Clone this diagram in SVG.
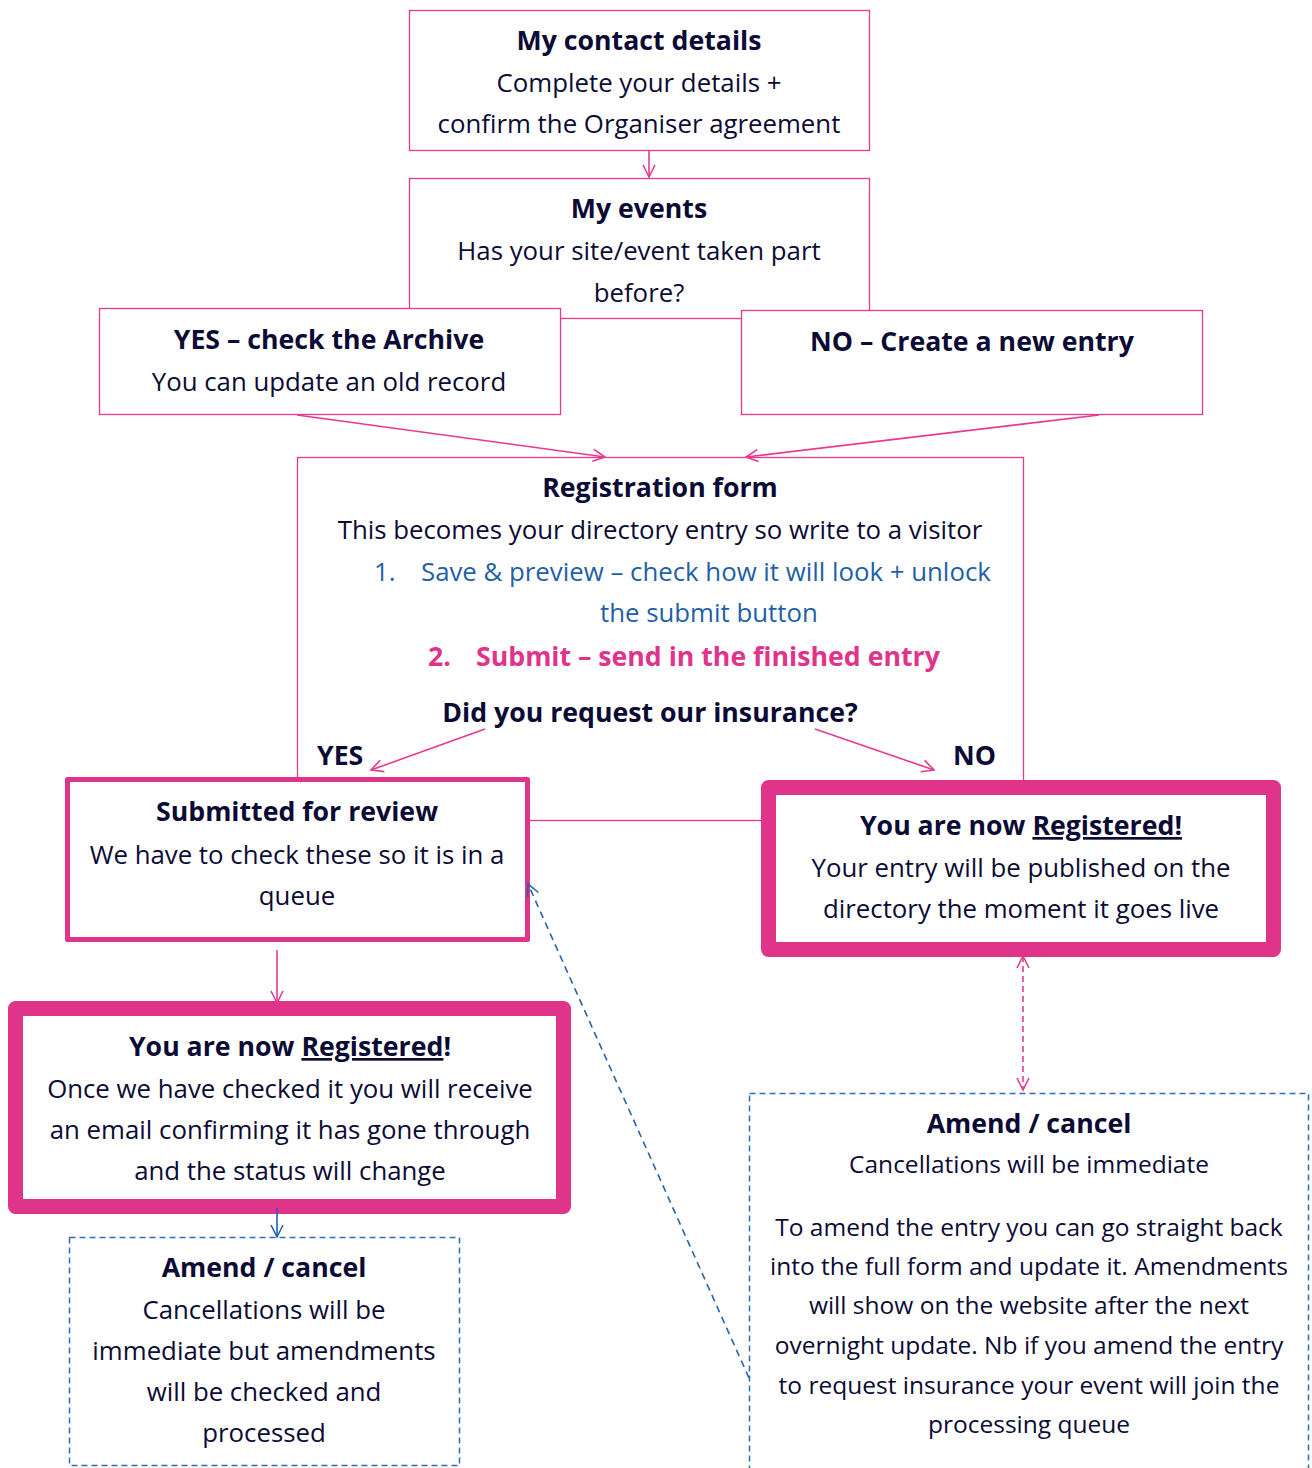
<svg xmlns="http://www.w3.org/2000/svg" width="1312" height="1468" viewBox="0 0 1312 1468">
<defs>
<style>
.t { font-family: "Open Sans", Lato, "Liberation Sans", sans-serif; font-size: 25.8px; fill: #0b0b35; }
.b { font-weight: bold; font-size: 26.7px; }
.sm { font-size: 24.5px; }
.c { text-anchor: middle; }
.blue { fill: #1F5FA8; }
.pinkt { fill: #E0338A; }
.thin { fill: #fff; stroke: #E8398F; stroke-width: 1.3; }
.thick { fill: #fff; stroke: #E0338A; stroke-linejoin: round; }
.dash { fill: #fff; stroke: #2E6DB4; stroke-width: 1.5; stroke-dasharray: 6 4; }
.conn { stroke: #E8398F; stroke-width: 1.6; fill: none; }
.bconn { stroke: #2464AE; stroke-width: 1.6; fill: none; }
</style>
<marker id="ph" markerUnits="userSpaceOnUse" markerWidth="16" markerHeight="16" refX="13" refY="7" orient="auto-start-reverse" viewBox="0 0 16 14">
<path d="M1,1 L13,7 L1,13" fill="none" stroke="#E8398F" stroke-width="1.6"/>
</marker>
<marker id="bh" markerUnits="userSpaceOnUse" markerWidth="16" markerHeight="16" refX="13" refY="7" orient="auto" viewBox="0 0 16 14">
<path d="M1,1 L13,7 L1,13" fill="none" stroke="#2464AE" stroke-width="1.6"/>
</marker>
</defs>
<rect width="1312" height="1468" fill="#fff"/>

<g id="contact">
<rect class="thin" x="409.5" y="10.5" width="460" height="140"/>
<text class="t b c" x="639" y="50">My contact details</text>
<text class="t c" x="639" y="92">Complete your details +</text>
<text class="t c" x="639" y="133">confirm the Organiser agreement</text>
</g>

<g id="events">
<rect class="thin" x="409.5" y="178.5" width="460" height="140"/>
<text class="t b c" x="639" y="218">My events</text>
<text class="t c" x="639" y="260">Has your site/event taken part</text>
<text class="t c" x="639" y="302">before?</text>
</g>

<g id="yes-archive">
<rect class="thin" x="99.5" y="308.5" width="461" height="106"/>
<text class="t b c" x="329" y="349">YES – check the Archive</text>
<text class="t c" x="329" y="391">You can update an old record</text>
</g>

<g id="no-new">
<rect class="thin" x="741.5" y="310.5" width="461" height="104"/>
<text class="t b c" x="972" y="351">NO – Create a new entry</text>
</g>

<g id="registration">
<rect class="thin" x="297.5" y="457.5" width="726" height="363"/>
<text class="t b c" x="660" y="497">Registration form</text>
<text class="t c" x="660" y="539">This becomes your directory entry so write to a visitor</text>
<text class="t blue" x="374" y="581">1.</text>
<text class="t blue" x="421" y="581">Save &amp; preview – check how it will look + unlock</text>
<text class="t blue" x="600" y="622">the submit button</text>
<text class="t b pinkt" x="428" y="666">2.</text>
<text class="t b pinkt" x="476" y="666">Submit – send in the finished entry</text>
<text class="t b c" x="650" y="722">Did you request our insurance?</text>
<text class="t b" x="317" y="765">YES</text>
<text class="t b" x="953" y="765">NO</text>
</g>

<g id="submitted">
<rect class="thick" x="67.5" y="779.5" width="460" height="160" stroke-width="5"/>
<text class="t b c" x="297" y="821">Submitted for review</text>
<text class="t c" x="297" y="864">We have to check these so it is in a</text>
<text class="t c" x="297" y="905">queue</text>
</g>

<g id="registered-now">
<rect class="thick" x="768.5" y="787.5" width="505" height="162" stroke-width="15"/>
<text class="t b c" x="1021" y="835">You are now <tspan text-decoration="underline">Registered!</tspan></text>
<text class="t c" x="1021" y="877">Your entry will be published on the</text>
<text class="t c" x="1021" y="918">directory the moment it goes live</text>
</g>

<g id="registered-checked">
<rect class="thick" x="15.5" y="1008.5" width="548" height="198" stroke-width="15"/>
<text class="t b c" x="290" y="1056">You are now <tspan text-decoration="underline">Registered</tspan>!</text>
<text class="t c" x="290" y="1098">Once we have checked it you will receive</text>
<text class="t c" x="290" y="1139">an email confirming it has gone through</text>
<text class="t c" x="290" y="1180">and the status will change</text>
</g>

<g id="amend-left">
<rect class="dash" x="69.5" y="1237.5" width="390" height="228"/>
<text class="t b c" x="264" y="1277">Amend / cancel</text>
<text class="t c" x="264" y="1319">Cancellations will be</text>
<text class="t c" x="264" y="1360">immediate but amendments</text>
<text class="t c" x="264" y="1401">will be checked and</text>
<text class="t c" x="264" y="1442">processed</text>
</g>

<g id="amend-right">
<rect class="dash" x="749.5" y="1093.5" width="559" height="400"/>
<text class="t b c" x="1029" y="1133">Amend / cancel</text>
<text class="t sm c" x="1029" y="1173">Cancellations will be immediate</text>
<text class="t sm c" x="1029" y="1236">To amend the entry you can go straight back</text>
<text class="t sm c" x="1029" y="1275">into the full form and update it. Amendments</text>
<text class="t sm c" x="1029" y="1314">will show on the website after the next</text>
<text class="t sm c" x="1029" y="1354">overnight update. Nb if you amend the entry</text>
<text class="t sm c" x="1029" y="1394">to request insurance your event will join the</text>
<text class="t sm c" x="1029" y="1433">processing queue</text>
</g>

<g id="connectors">
<line class="conn" x1="649" y1="151" x2="649" y2="177" marker-end="url(#ph)"/>
<line class="conn" x1="297" y1="415" x2="605" y2="457" marker-end="url(#ph)"/>
<line class="conn" x1="1099" y1="415" x2="746" y2="457" marker-end="url(#ph)"/>
<line class="conn" x1="485" y1="729" x2="371" y2="770" marker-end="url(#ph)"/>
<line class="conn" x1="815" y1="729" x2="934" y2="770" marker-end="url(#ph)"/>
<line class="conn" x1="277" y1="950" x2="277" y2="1003" marker-end="url(#ph)"/>
<line class="conn" x1="1023" y1="956" x2="1023" y2="1090" stroke-dasharray="6 4" marker-start="url(#ph)" marker-end="url(#ph)"/>
<line class="bconn" x1="277" y1="1208" x2="277" y2="1237" marker-end="url(#bh)"/>
<line class="bconn" x1="749" y1="1378" x2="528" y2="884" stroke-dasharray="7 5" marker-end="url(#bh)"/>
</g>
</svg>
